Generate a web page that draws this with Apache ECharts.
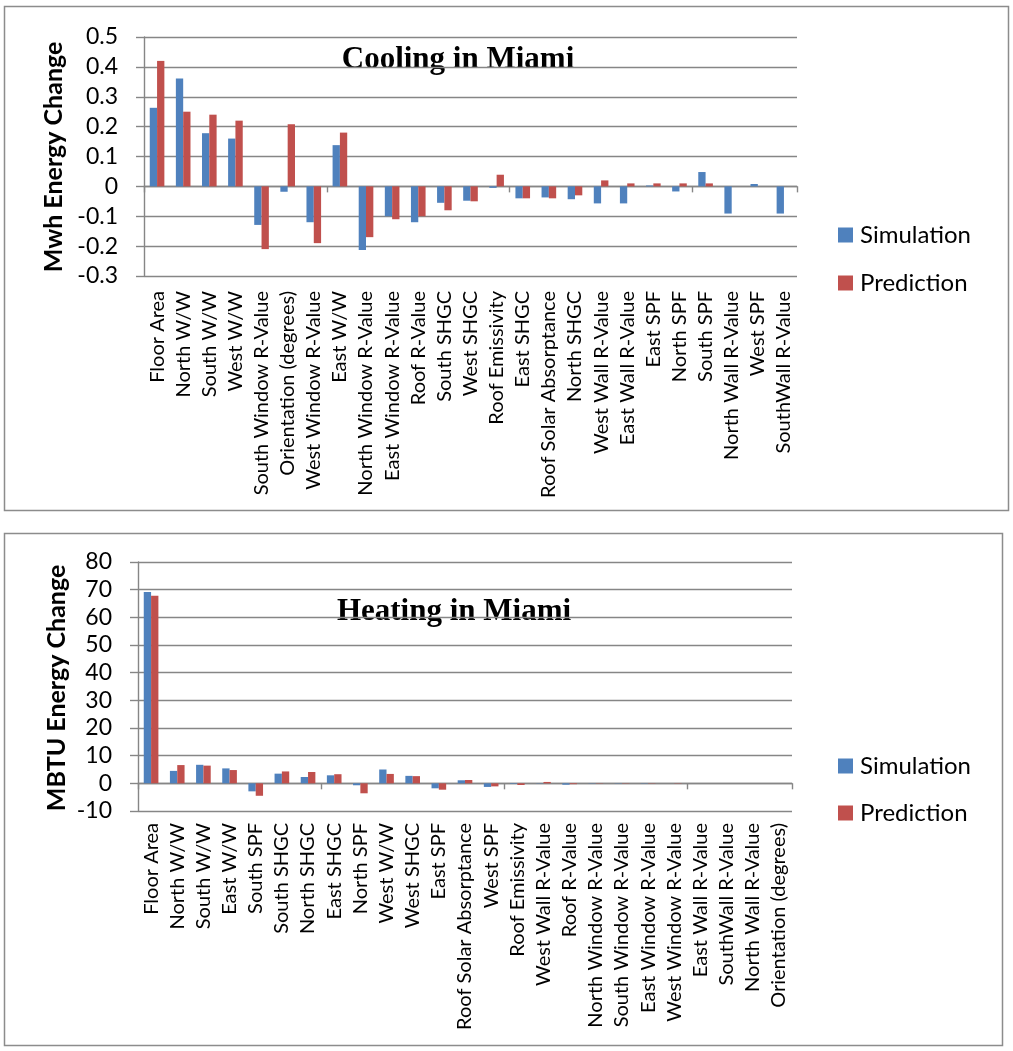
<!DOCTYPE html>
<html>
<head>
<meta charset="utf-8">
<script src="https://cdn.jsdelivr.net/npm/echarts@6/dist/echarts.min.js"></script>
<style>
  html, body { margin: 0; padding: 0; background: #fff; }
  #chart { width: 1013px; height: 1051px; }
</style>
</head>
<body>
<div id="chart"></div>
<script>
// Cooling in Miami (MWh)
const coolingCategories = [
  'Floor Area', 'North W/W', 'South W/W', 'West W/W', 'South Window R-Value',
  'Orientation (degrees)', 'West Window R-Value', 'East W/W', 'North Window R-Value',
  'East Window R-Value', 'Roof R-Value', 'South SHGC', 'West SHGC', 'Roof Emissivity',
  'East SHGC', 'Roof Solar Absorptance', 'North SHGC', 'West Wall R-Value',
  'East Wall R-Value', 'East SPF', 'North SPF', 'South SPF', 'North Wall R-Value',
  'West SPF', 'SouthWall R-Value'
];
const coolingSimulation = [0.263, 0.361, 0.178, 0.16, -0.129, -0.018, -0.12, 0.138, -0.213,
  -0.10, -0.12, -0.055, -0.048, -0.005, -0.04, -0.037, -0.043, -0.057, -0.057, 0.003,
  -0.017, 0.048, -0.091, 0.008, -0.091];
const coolingPrediction = [0.42, 0.25, 0.24, 0.22, -0.21, 0.208, -0.19, 0.18, -0.17,
  -0.11, -0.10, -0.08, -0.05, 0.039, -0.04, -0.04, -0.03, 0.02, 0.01, 0.01,
  0.01, 0.01, 0, 0, 0];

// Heating in Miami (MBTU)
const heatingCategories = [
  'Floor Area', 'North W/W', 'South W/W', 'East W/W', 'South SPF', 'South SHGC',
  'North SHGC', 'East SHGC', 'North SPF', 'West W/W', 'West SHGC', 'East SPF',
  'Roof Solar Absorptance', 'West SPF', 'Roof Emissivity', 'West Wall R-Value',
  'Roof R-Value', 'North Window R-Value', 'South Window R-Value', 'East Window R-Value',
  'West Window R-Value', 'East Wall R-Value', 'SouthWall R-Value', 'North Wall R-Value',
  'Orientation (degrees)'
];
const heatingSimulation = [69.2, 4.5, 6.7, 5.4, -2.9, 3.5, 2.3, 2.9, -0.7, 5.0, 2.7, -1.8,
  1.1, -1.3, -0.2, 0.1, -0.5, 0.1, 0.1, 0.1, 0, 0, 0, 0, 0];
const heatingPrediction = [67.8, 6.6, 6.4, 4.8, -4.5, 4.3, 4.1, 3.3, -3.6, 3.4, 2.6, -2.3,
  1.2, -1.1, -0.6, 0.5, -0.3, 0.1, 0.1, 0.1, 0.1, 0, 0, 0, 0];

const coolingTicks = { min: -0.3, max: 0.5, interval: 0.1 };
const heatingTicks = { min: -10, max: 80, interval: 10 };

const BLUE = '#4F81BD';
const RED = '#C0504D';
const GRAY = '#868686';
const SANS = 'Lato, "Liberation Sans", sans-serif';

const chart = echarts.init(document.getElementById('chart'), null, { renderer: 'canvas' });

function valueAxis(grid, ticks, fmt) {
  return {
    type: 'value', gridIndex: grid,
    min: ticks.min, max: ticks.max, interval: ticks.interval,
    axisLine: { show: true, lineStyle: { color: GRAY, width: 1.4 } },
    axisTick: { show: true, length: 8, lineStyle: { color: GRAY, width: 1.4 } },
    splitLine: { show: true, lineStyle: { color: GRAY, width: 1.4 } },
    axisLabel: { color: '#000', fontSize: 23, fontFamily: SANS, margin: 26, formatter: fmt }
  };
}

// zero-line axis carrying the bars and its tick marks
function zeroAxis(grid, cats) {
  return {
    type: 'category', gridIndex: grid, data: cats, position: 'bottom',
    axisLine: { show: true, onZero: true, lineStyle: { color: GRAY, width: 1.4 } },
    axisTick: { show: true, length: 6, lineStyle: { color: GRAY, width: 1.4 } },
    axisLabel: { show: false }
  };
}

// label-only axis sitting at the bottom of the plot
function labelAxis(grid, cats, margin) {
  return {
    type: 'category', gridIndex: grid, data: cats, position: 'bottom',
    axisLine: { show: false, onZero: false },
    axisTick: { show: false },
    splitLine: { show: false },
    axisLabel: { show: true, interval: 0, rotate: 90, margin: margin,
      color: '#000', fontSize: 20, fontFamily: SANS }
  };
}

function bar(name, data, xi, yi, color) {
  return {
    name, type: 'bar', data, xAxisIndex: xi, yAxisIndex: yi,
    barGap: '0%', barCategoryGap: '44%',
    itemStyle: { color },
    animation: false
  };
}

const coolFmt = v => Math.abs(v) < 1e-9 ? '0' : v.toFixed(1);
const heatFmt = v => String(Math.round(v));

const legendBase = {
  orient: 'vertical', icon: 'rect', itemWidth: 15, itemHeight: 15,
  data: ['Simulation', 'Prediction'],
  textStyle: { color: '#000', fontSize: 24, fontFamily: SANS, padding: [0, 0, 0, 2] },
  padding: 0, selectedMode: false
};

chart.setOption({
  animation: false,
  backgroundColor: '#fff',
  grid: [
    { left: 144, top: 37, width: 653, height: 239, containLabel: false },
    { left: 138, top: 562, width: 654, height: 249, containLabel: false }
  ],
  xAxis: [
    zeroAxis(0, coolingCategories),
    labelAxis(0, coolingCategories, 15),
    zeroAxis(1, heatingCategories),
    labelAxis(1, heatingCategories, 12)
  ],
  yAxis: [
    valueAxis(0, coolingTicks, coolFmt),
    valueAxis(1, heatingTicks, heatFmt)
  ],
  legend: [
    Object.assign({}, legendBase, { left: 838, top: 223, itemGap: 24 }),
    Object.assign({}, legendBase, { left: 838, top: 754, itemGap: 23 })
  ],
  series: [
    bar('Simulation', coolingSimulation, 0, 0, BLUE),
    bar('Prediction', coolingPrediction, 0, 0, RED),
    bar('Simulation', heatingSimulation, 2, 1, BLUE),
    bar('Prediction', heatingPrediction, 2, 1, RED)
  ],
  graphic: [
    { type: 'rect', silent: true, z: -1,
      shape: { x: 4.5, y: 6.5, width: 1004, height: 504 },
      style: { fill: null, stroke: '#8c8c8c', lineWidth: 1.5 } },
    { type: 'rect', silent: true, z: -1,
      shape: { x: 4.5, y: 533.5, width: 998, height: 512 },
      style: { fill: null, stroke: '#8c8c8c', lineWidth: 1.5 } },
    { type: 'text', x: 458, y: 60,
      style: { text: 'Cooling in Miami', fill: '#000', align: 'center', verticalAlign: 'middle',
        font: 'bold 31px "Liberation Serif", "Times New Roman", serif' } },
    { type: 'text', x: 454, y: 612,
      style: { text: 'Heating in Miami', fill: '#000', align: 'center', verticalAlign: 'middle',
        font: 'bold 31px "Liberation Serif", "Times New Roman", serif' } },
    { type: 'text', x: 54, y: 157, rotation: Math.PI / 2,
      style: { text: 'Mwh Energy Change', fill: '#000', align: 'center', verticalAlign: 'middle',
        font: 'bold 25px ' + SANS } },
    { type: 'text', x: 57, y: 688, rotation: Math.PI / 2,
      style: { text: 'MBTU Energy Change', fill: '#000', align: 'center', verticalAlign: 'middle',
        font: 'bold 25px ' + SANS } }
  ]
});
</script>
</body>
</html>
